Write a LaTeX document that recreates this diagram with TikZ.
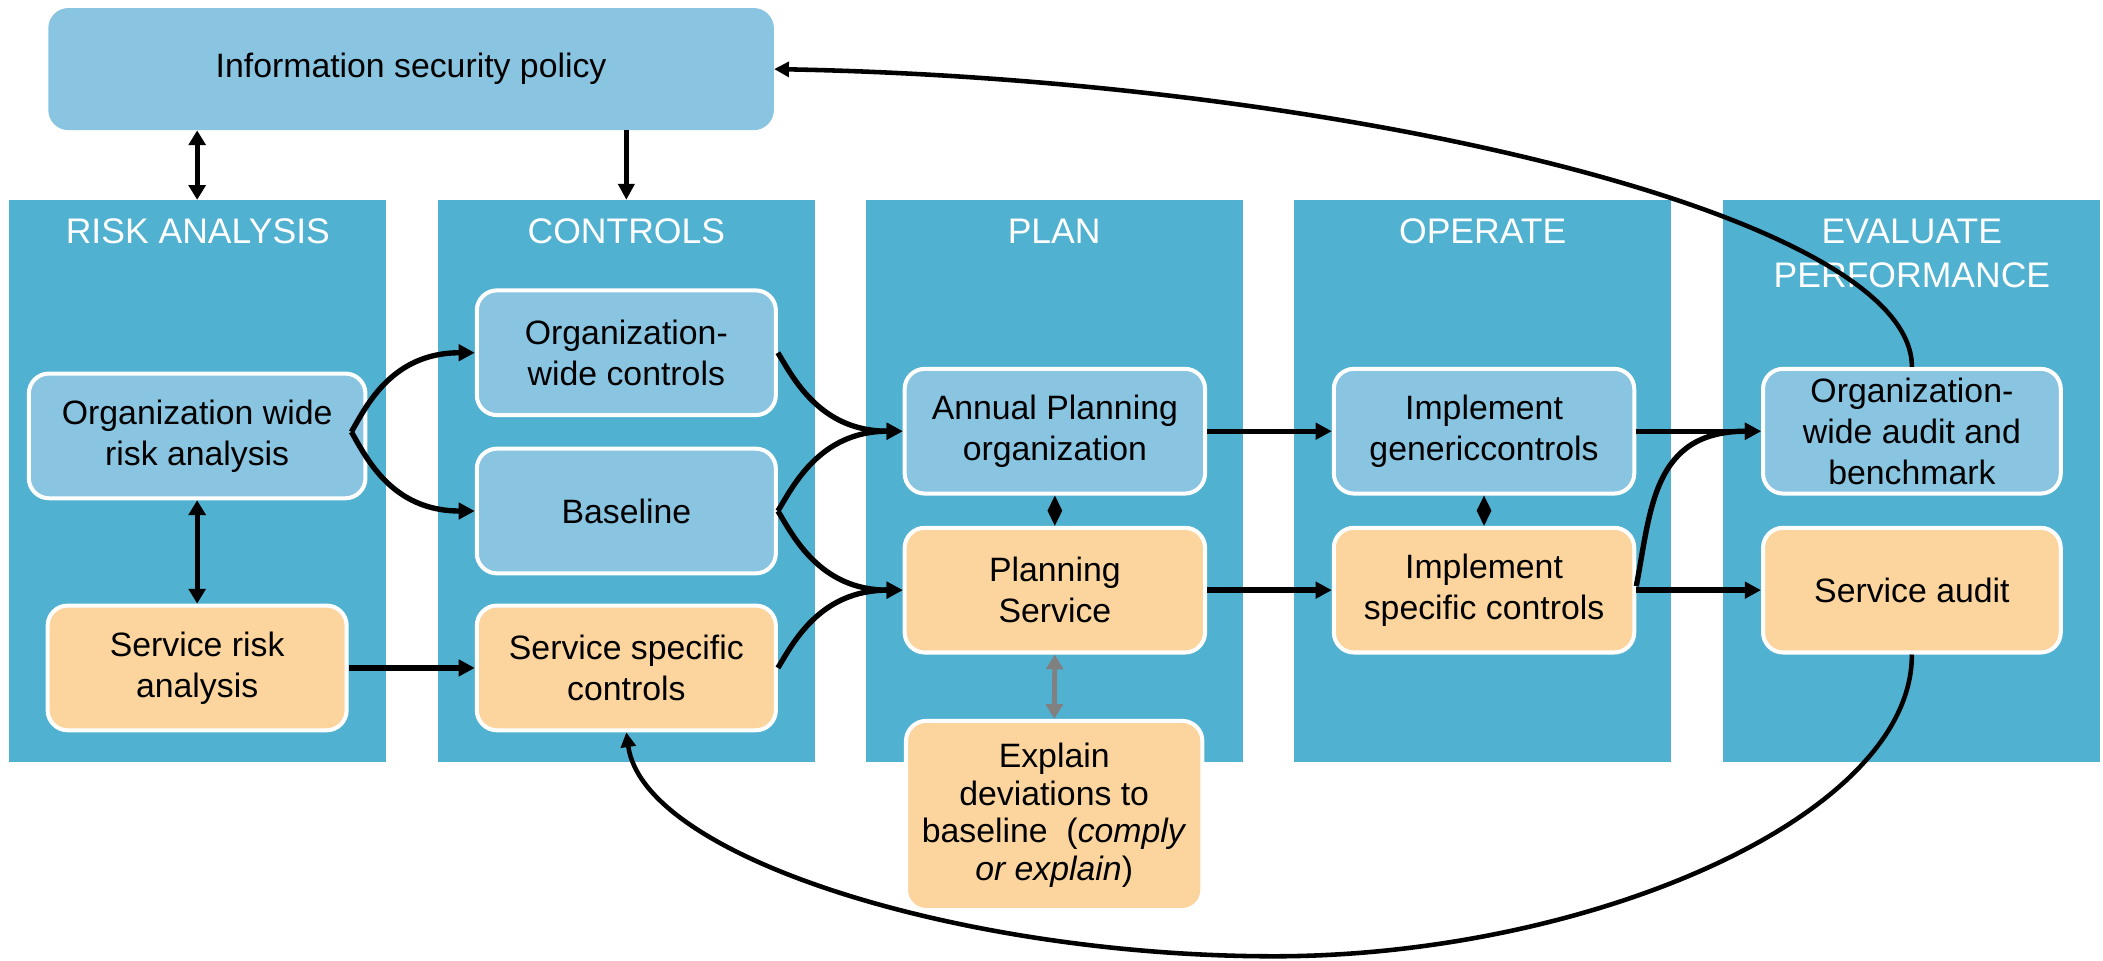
\documentclass[tikz,border=0pt]{standalone}
\usepackage{fontspec}
\setmainfont{Liberation Sans}
\usetikzlibrary{arrows.meta}
\definecolor{panelc}{HTML}{50B1D0}
\definecolor{lightb}{HTML}{89C4E1}
\definecolor{orng}{HTML}{FCD59E}
\definecolor{arrgray}{HTML}{808080}
\begin{document}
\begin{tikzpicture}[x=1pt,y=-1pt,
  panel/.style={fill=panelc, minimum width=281pt, minimum height=419pt, inner sep=0pt, outer sep=0pt},
  ptitle/.style={text=white, font=\fontsize{26.5}{33}\selectfont, align=center, anchor=north, inner sep=0pt},
  boxb/.style={draw=white, line width=3pt, rounded corners=15pt, fill=lightb, minimum width=223pt, minimum height=93pt, inner sep=0pt, align=center, font=\fontsize{25.2}{30.5}\selectfont},
  boxo/.style={boxb, fill=orng},
  arr/.style={line width=4pt, -{Triangle[length=12pt,width=12pt]}},
  darr/.style={line width=3.6pt, {Triangle[length=11pt,width=12.5pt]}-{Triangle[length=11pt,width=12.5pt]}},
  larr/.style={line width=3.4pt, -{Triangle[length=11pt,width=11pt]}}
]
\useasboundingbox (0,0) rectangle (1568,716);
\fill[white] (0,0) rectangle (1568,716);

% panels
\node[panel] (rpan) at (147.5,358.5) {};
\node[panel] (cpan) at (467,358.5) {};
\node[panel] (ppan) at (786,358.5) {};
\node[panel] (opan) at (1105.5,358.5) {};
\node[panel] (epan) at (1425.5,358.5) {};

\node[ptitle] (trisk) at (147.5,163) {RISK ANALYSIS};
\node[ptitle] (tctl) at (467,163) {CONTROLS};
\node[ptitle] (tplan) at (786,163) {PLAN};
\node[ptitle] (topr) at (1105.5,163) {OPERATE};
\node[ptitle] (teval) at (1425.5,163) {EVALUATE\\PERFORMANCE};

% policy
\node[fill=lightb, rounded corners=15pt, minimum width=541pt, minimum height=91pt, inner sep=0pt,
      font=\fontsize{25.2}{30.5}\selectfont] (policy) at (306.5,51.5) {Information security policy};

% boxes
\node[boxb, minimum width=251pt] (orgrisk) at (147,325) {Organization wide\\risk analysis};
\node[boxo] (srisk) at (147,498) {Service risk\\analysis};
\node[boxb] (orgctl) at (467,263) {Organization-\\wide controls};
\node[boxb] (base) at (467,381) {Baseline};
\node[boxo] (ssc) at (467,498) {Service specific\\controls};
\node[boxb, minimum width=224pt] (apo) at (786.5,321.5) {Annual Planning\\organization};
\node[boxo, minimum width=224pt] (ps) at (786.5,440) {Planning\\Service};
\node[boxo, minimum width=221pt, minimum height=141pt, font=\fontsize{25.2}{28}\selectfont] (expl) at (786,608)
  {Explain\\deviations to\\baseline\ \ (\textit{comply}\\\textit{or explain})};
\node[boxb, minimum width=224pt] (igc) at (1106.5,321.5) {Implement\\genericcontrols};
\node[boxo, minimum width=224pt] (isc) at (1106.5,440) {Implement\\specific controls};
\node[boxb, minimum width=222pt] (oaud) at (1425.5,321.5) {Organization-\\wide audit and\\benchmark};
\node[boxo, minimum width=222pt] (saud) at (1425.5,440) {Service audit};

% connectors
\draw[darr] (orgrisk.north |- policy.south) -- (orgrisk.north |- rpan.north);
\draw[arr] (ssc.north |- policy.south) -- (ssc.north |- cpan.north);
\draw[darr] (orgrisk.south) -- (srisk.north);
\draw[arr] (srisk.east) -- (ssc.west);
\draw[arr] ([xshift=-12pt,yshift=3pt]orgrisk.east) .. controls +(11,-19) and +(-62,0) .. (orgctl.west);
\draw[arr] ([xshift=-12pt,yshift=3pt]orgrisk.east) .. controls +(11,19) and +(-62,0) .. (base.west);
\draw[arr] (orgctl.east) .. controls +(11,18) and +(-62,0) .. (apo.west);
\draw[arr] (base.east) .. controls +(11,-18) and +(-62,0) .. (apo.west);
\draw[arr] (base.east) .. controls +(11,18) and +(-62,0) .. (ps.west);
\draw[arr] (ssc.east) .. controls +(11,-18) and +(-62,0) .. (ps.west);
\draw[arr] (apo.east) -- (igc.west);
\draw[arr] (ps.east) -- (isc.west);
\draw[arr] (igc.east) -- (oaud.west);
\draw[arr] ([yshift=3pt]isc.east) .. controls +(11,-57) and +(-81,0) .. (oaud.west);
\draw[arr] (isc.east) -- (saud.west);
% diamond connectors
\path (apo.south) -- (ps.north) coordinate[midway] (dm1);
\fill (apo.south) -- ([xshift=5.5pt]dm1) -- (ps.north) -- ([xshift=-5.5pt]dm1) -- cycle;
\path (igc.south) -- (isc.north) coordinate[midway] (dm2);
\fill (igc.south) -- ([xshift=5.5pt]dm2) -- (isc.north) -- ([xshift=-5.5pt]dm2) -- cycle;
\draw[darr, color=arrgray] (ps.south) -- (expl.north);
\draw[larr] (oaud.north) .. controls +(0,-114) and +(419,8) .. (policy.east);
\draw[larr] (saud.south) .. controls +(0,123) and (1180,713) .. (950,713)
            .. controls (720,713) and (480,640) .. (ssc.south);
\end{tikzpicture}
\end{document}
